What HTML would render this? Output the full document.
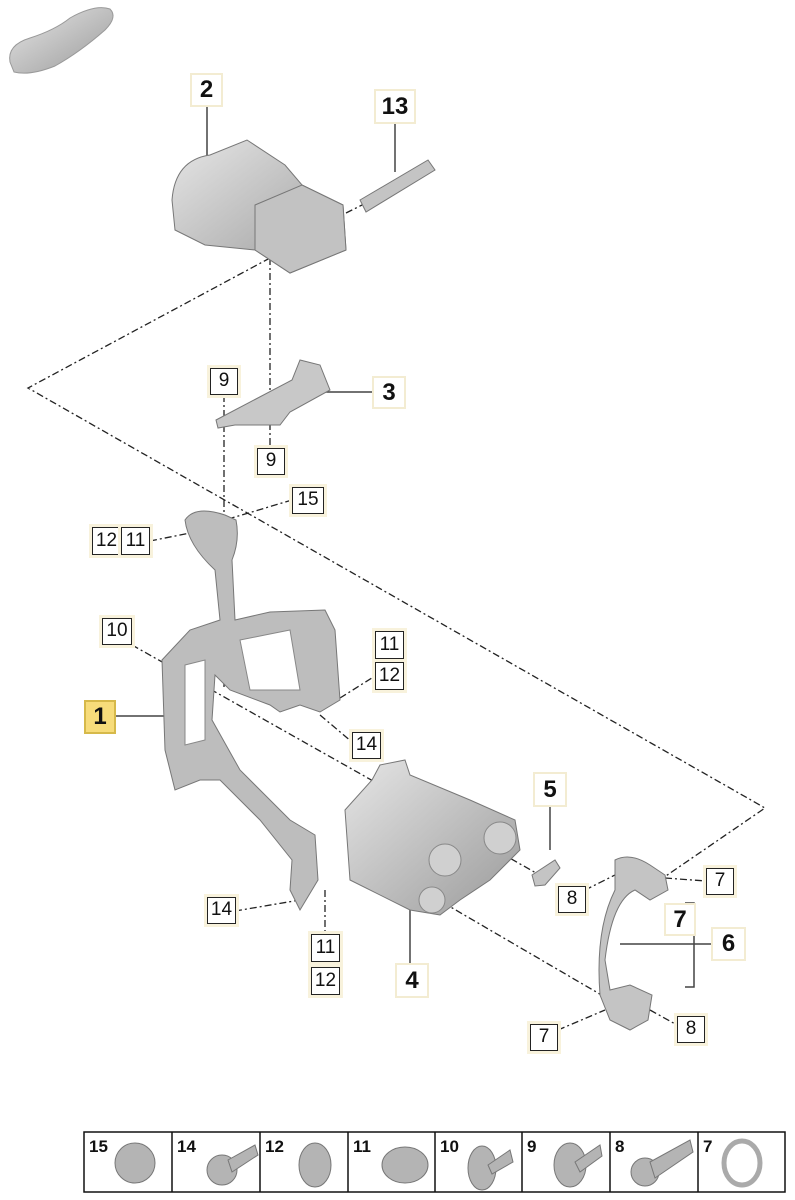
<!DOCTYPE html>
<html><head><meta charset="utf-8"><style>
html,body{margin:0;padding:0;background:#fff;}
body{width:795px;height:1200px;position:relative;overflow:hidden;font-family:"Liberation Sans",sans-serif;}
.l{position:absolute;box-sizing:border-box;border:1.5px solid #222;background:#fff;font-size:19px;text-align:center;color:#111;box-shadow:0 0 0 3px #f8f2dc;}
.b{position:absolute;box-sizing:border-box;border:2px solid #f3ecd2;background:#fff;font-size:24px;font-weight:bold;text-align:center;color:#111;}
</style></head><body>
<svg width="795" height="1200" style="position:absolute;left:0;top:0">
<defs>
<linearGradient id="g" x1="0" y1="0" x2="1" y2="1"><stop offset="0" stop-color="#e6e6e6"/><stop offset="1" stop-color="#9a9a9a"/></linearGradient>
</defs>
<g fill="none" stroke="#222" stroke-width="1.3" stroke-dasharray="7,3,2,3">
<path d="M270 258 L28 388 L765 808 L660 880"/>
<path d="M270 258 V465"/>
<path d="M224 395 V690"/>
<path d="M132 645 L545 878"/>
<path d="M150 541 L205 530"/>
<path d="M292 500 L225 520"/>
<path d="M346 213 L362 205"/>
<path d="M320 715 L352 742"/>
<path d="M340 698 L375 676"/>
<path d="M235 911 L300 900"/>
<path d="M325 890 V935"/>
<path d="M430 895 L610 1000"/>
<path d="M585 890 L625 870"/>
<path d="M665 878 L706 881"/>
<path d="M558 1030 L605 1010"/>
<path d="M650 1010 L677 1025"/>
</g>
<g stroke="#444" stroke-width="1.5" fill="none">
<path d="M207 106 V160 L200 165"/>
<path d="M395 123 V172"/>
<path d="M318 392 H372"/>
<path d="M115 716 H165"/>
<path d="M550 806 V850"/>
<path d="M410 908 V964"/>
<path d="M620 944 H712"/>
<path d="M685 903 H694 V987 H685"/>
</g>
<!-- car -->
<path d="M10 62 Q7 45 30 38 Q55 30 70 18 Q95 4 110 9 Q118 17 105 30 Q80 52 55 66 Q30 76 14 72 Z" fill="url(#g)" stroke="#999"/>
<!-- part 2 -->
<path d="M172 200 Q175 160 210 155 L247 140 L285 165 L302 185 L343 205 L346 250 L290 273 L255 250 L205 245 L175 230 Z" fill="url(#g)" stroke="#777"/>
<path d="M255 205 L302 185 L343 205 L346 250 L290 273 L255 250 Z" fill="#c2c2c2" stroke="#777"/>
<!-- 13 pin -->
<path d="M360 200 L428 160 L435 170 L366 212 Z" fill="#c4c4c4" stroke="#777"/>
<!-- 3 bracket -->
<path d="M216 420 L292 380 L300 360 L320 365 L330 390 L290 412 L280 425 L235 425 L218 428 Z" fill="#c8c8c8" stroke="#777"/>
<!-- 1 bracket -->
<path d="M185 520 Q195 505 225 515 L236 520 Q240 540 232 560 L235 620 L270 612 L325 610 L335 630 L340 700 L320 712 L300 705 L280 712 L270 705 L230 690 L215 675 L212 720 L240 770 L290 820 L315 835 L318 880 L300 910 L290 890 L292 860 L260 820 L220 780 L200 780 L175 790 L165 750 L162 660 L190 630 L220 620 L215 570 Q188 545 185 520 Z" fill="#bdbdbd" stroke="#777"/>
<path d="M185 665 L205 660 L205 740 L185 745 Z" fill="#fff" stroke="#888"/>
<path d="M240 640 L290 630 L300 690 L250 690 Z" fill="#fff" stroke="#888"/>
<!-- 4 cooler -->
<path d="M345 810 L372 780 L380 765 L405 760 L410 775 L470 800 L515 820 L520 850 L490 880 L460 900 L440 915 L410 910 L350 880 Z" fill="url(#g)" stroke="#777"/>
<circle cx="500" cy="838" r="16" fill="#d0d0d0" stroke="#888"/>
<circle cx="445" cy="860" r="16" fill="#d0d0d0" stroke="#888"/>
<circle cx="432" cy="900" r="13" fill="#d0d0d0" stroke="#888"/>
<!-- 5 clip -->
<path d="M532 875 L555 860 L560 868 L545 885 L535 886 Z" fill="#c4c4c4" stroke="#777"/>
<!-- 6 pipe -->
<path d="M615 860 Q630 852 650 865 L665 875 L668 890 L650 900 L635 890 Q612 900 605 960 L610 990 L630 985 L652 995 L648 1020 L630 1030 L610 1020 L600 995 Q595 930 615 890 Z" fill="#c4c4c4" stroke="#777"/>
<!-- bottom strip -->
<g stroke="#111" stroke-width="1.5" fill="none">
<rect x="84" y="1132" width="701" height="60"/>
<path d="M172 1132V1192M260 1132V1192M348 1132V1192M435 1132V1192M522 1132V1192M610 1132V1192M698 1132V1192"/>
</g>
<g fill="#b4b4b4" stroke="#777">
<circle cx="135" cy="1163" r="20"/><circle cx="222" cy="1170" r="15"/><path d="M228 1160 L255 1145 L258 1155 L232 1172Z"/>
<ellipse cx="315" cy="1165" rx="16" ry="22"/><ellipse cx="405" cy="1165" rx="23" ry="18"/>
<ellipse cx="482" cy="1168" rx="14" ry="22"/><path d="M488 1165 L510 1150 L513 1162 L492 1174Z"/>
<ellipse cx="570" cy="1165" rx="16" ry="22"/><path d="M575 1162 L600 1145 L602 1156 L580 1172Z"/>
<circle cx="645" cy="1172" r="14"/><path d="M650 1162 L690 1140 L693 1152 L655 1178Z"/>
<ellipse cx="742" cy="1163" rx="18" ry="22" fill="none" stroke="#aaa" stroke-width="5"/>
</g>
<g font-family="Liberation Sans" font-weight="bold" font-size="17" fill="#111">
<text x="89" y="1152">15</text><text x="177" y="1152">14</text><text x="265" y="1152">12</text><text x="353" y="1152">11</text><text x="440" y="1152">10</text><text x="527" y="1152">9</text><text x="615" y="1152">8</text><text x="703" y="1152">7</text>
</g>
</svg>
<div class="b" style="left:190px;top:73px;width:33px;height:34px;line-height:30px">2</div>
<div class="b" style="left:374px;top:89px;width:42px;height:35px;line-height:31px">13</div>
<div class="b" style="left:372px;top:376px;width:34px;height:33px;line-height:29px">3</div>
<div class="l" style="left:210px;top:368px;width:28px;height:27px;line-height:24px">9</div>
<div class="l" style="left:257px;top:448px;width:28px;height:27px;line-height:24px">9</div>
<div class="l" style="left:292px;top:487px;width:32px;height:27px;line-height:24px">15</div>
<div class="l" style="left:92px;top:527px;width:29px;height:28px;line-height:25px">12</div>
<div class="l" style="left:121px;top:527px;width:29px;height:28px;line-height:25px">11</div>
<div class="l" style="left:102px;top:618px;width:30px;height:27px;line-height:24px">10</div>
<div class="l" style="left:375px;top:631px;width:29px;height:28px;line-height:25px">11</div>
<div class="l" style="left:375px;top:662px;width:29px;height:28px;line-height:25px">12</div>
<div class="b" style="left:84px;top:700px;width:32px;height:34px;line-height:30px;background:#f7dc7a;border-color:#d6b94a">1</div>
<div class="l" style="left:352px;top:732px;width:29px;height:27px;line-height:24px">14</div>
<div class="b" style="left:533px;top:772px;width:34px;height:35px;line-height:31px">5</div>
<div class="l" style="left:558px;top:886px;width:28px;height:27px;line-height:24px">8</div>
<div class="l" style="left:706px;top:868px;width:28px;height:27px;line-height:24px">7</div>
<div class="b" style="left:664px;top:903px;width:32px;height:33px;line-height:29px">7</div>
<div class="b" style="left:711px;top:927px;width:35px;height:34px;line-height:30px">6</div>
<div class="l" style="left:207px;top:897px;width:29px;height:27px;line-height:24px">14</div>
<div class="l" style="left:311px;top:934px;width:29px;height:28px;line-height:25px">11</div>
<div class="l" style="left:311px;top:967px;width:29px;height:28px;line-height:25px">12</div>
<div class="b" style="left:395px;top:963px;width:34px;height:35px;line-height:31px">4</div>
<div class="l" style="left:530px;top:1024px;width:28px;height:27px;line-height:24px">7</div>
<div class="l" style="left:677px;top:1016px;width:28px;height:27px;line-height:24px">8</div>
</body></html>
